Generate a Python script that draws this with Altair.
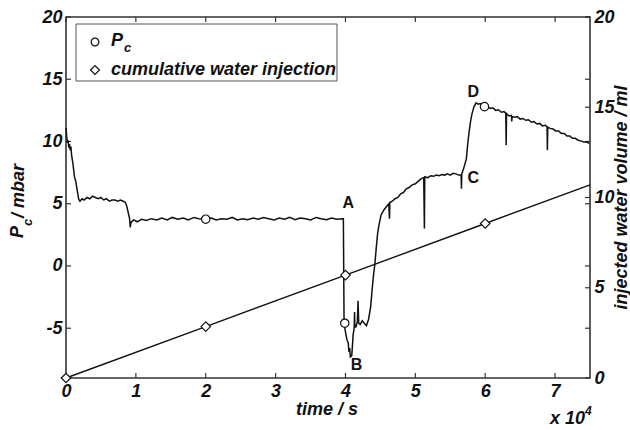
import altair as alt
import pandas as pd

# ---------------- data (time in units of 1e4 s) ----------------
t_seg1 = [0.0, 0.01, 0.02, 0.03, 0.04, 0.05, 0.06, 0.07, 0.08, 0.10, 0.12, 0.14, 0.16, 0.18,
          0.20, 0.23, 0.26, 0.30, 0.34, 0.38, 0.42, 0.46, 0.50, 0.54, 0.58, 0.62, 0.66, 0.70,
          0.74, 0.78, 0.82, 0.85, 0.87, 0.89, 0.91, 0.92, 0.93, 0.95]
pc_seg1 = [11.1, 10.4, 9.9, 10.1, 9.5, 9.8, 9.3, 9.6, 8.9, 8.2, 7.2, 6.8, 6.1, 5.4,
           5.2, 5.4, 5.3, 5.5, 5.4, 5.6, 5.5, 5.4, 5.5, 5.3, 5.4, 5.2, 5.3, 5.3,
           5.2, 5.3, 5.2, 5.1, 4.8, 4.3, 3.8, 3.1, 3.5, 3.6]

t_seg2 = [0.97, 1.02, 1.08, 1.15, 1.22, 1.30, 1.37, 1.45, 1.52, 1.60, 1.68, 1.75, 1.83, 1.90,
          2.00, 2.08, 2.15, 2.23, 2.30, 2.38, 2.45, 2.53, 2.60, 2.68, 2.75, 2.83, 2.90, 2.98,
          3.05, 3.13, 3.20, 3.28, 3.35, 3.43, 3.50, 3.58, 3.65, 3.73, 3.80, 3.88, 3.96]
pc_seg2 = [3.7, 3.55, 3.75, 3.65, 3.8, 3.7, 3.85, 3.7, 3.9, 3.75, 3.85, 3.7, 3.9, 3.8,
           3.76, 3.85, 3.7, 3.8, 3.75, 3.9, 3.7, 3.8, 3.72, 3.85, 3.75, 3.9, 3.8, 3.7,
           3.85, 3.75, 3.9, 3.72, 3.85, 3.8, 3.7, 3.9, 3.8, 3.72, 3.85, 3.75, 3.8]

t_seg3 = [3.97, 3.98, 4.00, 4.02, 4.04, 4.05, 4.06, 4.07, 4.09, 4.10, 4.11, 4.12, 4.125, 4.13,
          4.135, 4.15, 4.17, 4.18, 4.19, 4.21, 4.24, 4.27, 4.30, 4.33, 4.36, 4.38, 4.40, 4.42,
          4.44, 4.46, 4.48, 4.51, 4.55, 4.59, 4.62, 4.63]
pc_seg3 = [3.8, -4.6, -5.3, -5.9, -6.2, -6.9, -6.6, -7.3, -7.2, -6.4, -5.5, -5.2, -4.9, -3.7,
           -4.9, -4.9, -4.5, -2.8, -4.6, -4.7, -4.4, -4.6, -4.8, -4.3, -3.3, -2.0, -0.8, 0.1,
           1.4, 2.6, 3.3, 4.1, 4.5, 4.8, 5.0, 3.8]

t_seg4 = [4.635, 4.67, 4.71, 4.75, 4.79, 4.83, 4.87, 4.91, 4.95, 5.00, 5.04, 5.08, 5.12, 5.13,
          5.135, 5.18, 5.22, 5.26, 5.30, 5.34, 5.38, 5.42, 5.46, 5.50, 5.54, 5.58, 5.62, 5.655,
          5.66, 5.665]
pc_seg4 = [5.1, 5.2, 5.4, 5.5, 5.8, 5.9, 6.2, 6.3, 6.5, 6.6, 6.8, 7.0, 7.1, 3.0,
           7.15, 7.1, 7.25, 7.2, 7.3, 7.25, 7.35, 7.3, 7.4, 7.3, 7.45, 7.4, 7.3, 7.3,
           6.2, 7.4]

t_seg5 = [5.69, 5.71, 5.73, 5.75, 5.77, 5.79, 5.81, 5.84, 5.87, 5.90, 5.93, 5.96, 5.99, 6.03,
          6.07, 6.11, 6.15, 6.19, 6.23, 6.27, 6.295, 6.30, 6.305, 6.34, 6.375, 6.38, 6.385, 6.42,
          6.46, 6.50, 6.54, 6.58, 6.62, 6.66, 6.70, 6.74, 6.78, 6.82, 6.86, 6.885, 6.89, 6.895,
          6.93, 6.97, 7.01, 7.05, 7.09, 7.13, 7.17, 7.21, 7.25, 7.29, 7.33, 7.37, 7.41, 7.45, 7.49]
pc_seg5 = [7.8, 8.2, 8.6, 9.8, 10.8, 11.6, 12.2, 12.8, 13.1, 13.0, 13.05, 12.85, 12.8, 12.8,
           12.65, 12.7, 12.5, 12.55, 12.35, 12.4, 12.25, 9.7, 12.25, 12.05, 12.1, 11.6, 12.0, 11.95,
           12.0, 11.8, 11.85, 11.7, 11.75, 11.55, 11.6, 11.4, 11.45, 11.25, 11.3, 11.2, 9.3, 11.15,
           11.05, 11.0, 10.85, 10.85, 10.65, 10.65, 10.45, 10.45, 10.25, 10.25, 10.1, 10.05, 9.95, 9.95, 9.85]

pc_marker_t = [2.0, 3.99, 5.99]
pc_marker_v = [3.76, -4.6, 12.8]

vol_t = [0.0, 2.0, 4.0, 6.0, 7.5]
vol_v = [0.0, 2.85, 5.7, 8.56, 10.7]
vol_marker_t = [0.0, 2.0, 4.0, 6.0]
vol_marker_v = [0.0, 2.85, 5.7, 8.56]

point_labels = ["A", "B", "C", "D"]
point_label_t = [4.04, 4.16, 5.83, 5.83]
point_label_pc = [5.05, -7.95, 7.07, 14.0]

x_tick_vals = [0, 1, 2, 3, 4, 5, 6, 7]
left_tick_vals = [-5, 0, 5, 10, 15, 20]
right_tick_vals = [0, 5, 10, 15, 20]

legend_labels = ["P", "c", "cumulative water injection"]
x_title = ["time / s", "x 10", "4"]
left_title = ["P", "c", "/ mbar"]
right_title = "injected water volume / ml"

# ---------------- tables ----------------
pc_t = t_seg1 + t_seg2 + t_seg3 + t_seg4 + t_seg5
pc_v = pc_seg1 + pc_seg2 + pc_seg3 + pc_seg4 + pc_seg5
pc_df = pd.DataFrame({"t": pc_t, "pc": pc_v, "i": list(range(len(pc_t)))})
pcm_df = pd.DataFrame({"t": pc_marker_t, "pc": pc_marker_v})
vol_df = pd.DataFrame({"t": vol_t, "vol": vol_v})
volm_df = pd.DataFrame({"t": vol_marker_t, "vol": vol_marker_v})
lab_df = pd.DataFrame({"t": point_label_t, "pc": point_label_pc, "lab": point_labels})
xt_df = pd.DataFrame({"v": x_tick_vals})
ylt_df = pd.DataFrame({"v": left_tick_vals})
yrt_df = pd.DataFrame({"v": right_tick_vals})
one = pd.DataFrame({"k": [0]})

W, H = 524, 361
FONT = "Liberation Sans"
INK = "#111111"
AX = "#333333"

xs = alt.Scale(domain=[0, 7.5], nice=False, zero=False)
ysL = alt.Scale(domain=[-9, 20], nice=False, zero=False)
ysR = alt.Scale(domain=[0, 20], nice=False, zero=False)

common = dict(labelFont=FONT, labelFontSize=18, labelFontWeight="bold",
              labelFontStyle="italic", labelColor=INK, tickSize=0, domain=False,
              grid=False, title=None, labelOverlap=False,
              labelExpr="replace(datum.label, '\u2212', '-')")
X_AXIS = alt.Axis(values=x_tick_vals, labelFlush=False, labelPadding=4, orient="bottom", **common)
YL_AXIS = alt.Axis(values=left_tick_vals, labelPadding=4, orient="left", **common)
YR_AXIS = alt.Axis(values=right_tick_vals, labelPadding=4, orient="right", **common)

X = lambda f: alt.X(f, scale=xs, axis=X_AXIS)
YL = lambda f: alt.Y(f, scale=ysL, axis=YL_AXIS)
YR = lambda f: alt.Y(f, scale=ysR, axis=YR_AXIS)

pc_line = alt.Chart(pc_df).mark_line(color=INK, strokeWidth=1.5).encode(
    x=X("t:Q"), y=YL("pc:Q"), order="i:Q")
pc_pts = alt.Chart(pcm_df).mark_point(shape="circle", filled=True, fill="white",
                                      stroke=INK, strokeWidth=1.2, size=70, opacity=1).encode(
    x=X("t:Q"), y=YL("pc:Q"))
labels = alt.Chart(lab_df).mark_text(font=FONT, fontSize=16, fontWeight="bold", color=INK).encode(
    x=X("t:Q"), y=YL("pc:Q"), text="lab:N")

tick_b = alt.Chart(xt_df).mark_rule(color=AX, strokeWidth=1.2).encode(
    x=X("v:Q"), y=alt.value(H), y2=alt.value(H - 5))
tick_t = alt.Chart(xt_df).mark_rule(color=AX, strokeWidth=1.2).encode(
    x=X("v:Q"), y=alt.value(0), y2=alt.value(5))
tick_l = alt.Chart(ylt_df).mark_rule(color=AX, strokeWidth=1.2).encode(
    y=YL("v:Q"), x=alt.value(0), x2=alt.value(5))
tick_rl = alt.Chart(ylt_df).mark_rule(color=AX, strokeWidth=1.2).encode(
    y=YL("v:Q"), x=alt.value(W), x2=alt.value(W - 5))

txt = dict(font=FONT, fontWeight="bold", fontStyle="italic", color=INK, baseline="middle")

legend_box = alt.Chart(one).mark_rect(fill="white", stroke="#555555", strokeWidth=1).encode(
    x=alt.value(10), x2=alt.value(271), y=alt.value(7), y2=alt.value(64))
leg_c = alt.Chart(one).mark_point(shape="circle", filled=True, fill="white", stroke=INK,
                                  strokeWidth=1.2, size=60, opacity=1).encode(
    x=alt.value(29), y=alt.value(25))
leg_d = alt.Chart(one).mark_point(shape="diamond", filled=True, fill="white", stroke=INK,
                                  strokeWidth=1.2, size=80, opacity=1).encode(
    x=alt.value(29), y=alt.value(53))
leg_t1 = alt.Chart(one).mark_text(text=legend_labels[0], fontSize=18, align="left", **txt).encode(
    x=alt.value(45), y=alt.value(24))
leg_t1s = alt.Chart(one).mark_text(text=legend_labels[1], fontSize=13, align="left", **txt).encode(
    x=alt.value(58), y=alt.value(31))
leg_t2 = alt.Chart(one).mark_text(text=legend_labels[2], fontSize=18, align="left", **txt).encode(
    x=alt.value(45), y=alt.value(53))

xt1 = alt.Chart(one).mark_text(text=x_title[0], fontSize=18, align="center", **txt).encode(
    x=alt.value(261), y=alt.value(393))
xt2 = alt.Chart(one).mark_text(text=x_title[1], fontSize=18, align="left", **txt).encode(
    x=alt.value(484), y=alt.value(402))
xt3 = alt.Chart(one).mark_text(text=x_title[2], fontSize=12, align="left", **txt).encode(
    x=alt.value(519), y=alt.value(394))

lt1 = alt.Chart(one).mark_text(text=left_title[0], fontSize=18, align="left", angle=270, **txt).encode(
    x=alt.value(-48), y=alt.value(221))
lt2 = alt.Chart(one).mark_text(text=left_title[1], fontSize=13, align="left", angle=270, **txt).encode(
    x=alt.value(-38), y=alt.value(209))
lt3 = alt.Chart(one).mark_text(text=left_title[2], fontSize=18, align="left", angle=270, **txt).encode(
    x=alt.value(-47), y=alt.value(201))
rt = alt.Chart(one).mark_text(text=right_title, fontSize=18, align="center", angle=270, **txt).encode(
    x=alt.value(556), y=alt.value(180.5))

left_group = alt.layer(tick_b, tick_t, tick_l, tick_rl, pc_line, pc_pts, labels,
                       legend_box, leg_c, leg_d, leg_t1, leg_t1s, leg_t2,
                       xt1, xt2, xt3, lt1, lt2, lt3, rt)

vol_line = alt.Chart(vol_df).mark_line(color=INK, strokeWidth=1.4).encode(
    x=X("t:Q"), y=YR("vol:Q"))
vol_pts = alt.Chart(volm_df).mark_point(shape="diamond", filled=True, fill="white", stroke=INK,
                                        strokeWidth=1.2, size=90, opacity=1).encode(
    x=X("t:Q"), y=YR("vol:Q"))
tick_r = alt.Chart(yrt_df).mark_rule(color=AX, strokeWidth=1.2).encode(
    y=YR("v:Q"), x=alt.value(W), x2=alt.value(W - 5))

right_group = alt.layer(tick_r, vol_line, vol_pts)

chart = alt.layer(left_group, right_group).resolve_scale(y="independent").properties(
    width=W, height=H,
    autosize=alt.AutoSizeParams(type="none"),
    padding={"left": 66, "top": 17, "right": 40, "bottom": 52},
    background="white",
).configure_view(stroke=AX, strokeWidth=1.6)

chart.save("out.html", embed_options={"renderer": "svg", "actions": False})
